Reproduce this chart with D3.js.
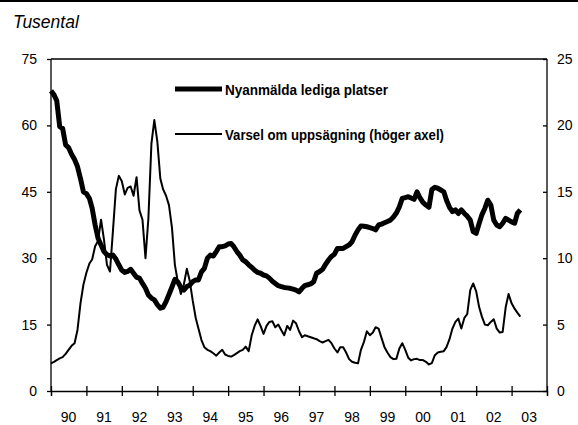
<!DOCTYPE html>
<html lang="sv">
<head>
<meta charset="UTF-8">
<title>Nyanmälda lediga platser och varsel</title>
<style>
  body { margin: 0; background: #fff; }
  svg { display: block; }
</style>
</head>
<body>
<script src="https://cdn.jsdelivr.net/npm/d3@7"></script>
<script>
const startMonth = '1990-01';
const yearLabels = ['90', '91', '92', '93', '94', '95', '96', '97', '98', '99', '00', '01', '02', '03'];
const leftTicks = [0, 15, 30, 45, 60, 75];
const rightTicks = [0, 5, 10, 15, 20, 25];

// nyanmälda lediga platser, tusental, månadsvis från jan 1990
const nyanmalda = [
  67.8, 66.9, 65.6, 59.7, 59.3, 55.6, 55.0, 53.5, 52.3, 50.7, 48.0, 45.0,
  44.6, 43.5, 41.3, 37.5, 34.5, 33.0, 31.5, 30.8, 30.5, 30.7, 29.8, 28.5,
  27.3, 26.8, 27.0, 27.5, 26.6, 25.7, 25.5, 24.3, 23.2, 21.7, 21.0, 20.6,
  19.5, 18.7, 18.9, 20.2, 21.8, 23.5, 25.2, 24.6, 23.4, 22.8, 23.6, 23.9,
  24.7, 25.1, 25.1, 26.9, 27.7, 30.0, 30.7, 30.5, 31.5, 32.6, 32.6, 32.8,
  33.2, 33.3, 32.6, 31.5, 30.7, 29.6, 29.2, 28.5, 27.9, 27.3, 26.8, 26.6,
  26.2, 26.0, 25.5, 24.8, 24.3, 23.8, 23.6, 23.4, 23.3, 23.2, 23.0, 22.8,
  22.4, 23.2, 23.8, 24.0, 24.2, 24.7, 26.6, 27.0, 27.5, 28.6, 29.6, 30.4,
  30.9, 32.2, 32.2, 32.2, 32.6, 33.0, 33.7, 35.2, 36.4, 37.3, 37.2, 37.1,
  36.9, 36.7, 36.4, 37.5, 37.7, 38.0, 38.3, 38.6, 39.3, 40.2, 41.6, 43.5,
  43.7, 43.9, 43.6, 43.3, 45.0, 43.6, 42.6, 42.0, 41.5, 45.5, 46.0, 45.8,
  45.4, 45.0, 43.1, 41.5, 40.5, 40.9, 40.1, 40.9, 40.1, 39.5, 38.6, 36.0,
  35.6, 37.9, 39.8, 41.3, 43.1, 42.0, 38.6, 37.5, 37.1, 37.9, 39.0, 38.6,
  38.2, 37.9, 40.1, 40.9
];

// varsel om uppsägning, tusental (höger axel)
const varsel = [
  2.08, 2.2, 2.33, 2.45, 2.55, 2.8, 3.1, 3.4, 3.6, 4.6, 6.6, 8.0,
  8.9, 9.6, 9.9, 10.9, 11.3, 12.9, 11.4, 9.5, 9.0, 12.0, 15.2, 16.2,
  15.8, 14.8, 15.3, 15.4, 14.7, 16.1, 13.6, 12.9, 10.0, 13.0, 18.6, 20.4,
  18.8, 16.0, 15.2, 14.7, 14.0, 12.3, 9.5, 8.2, 7.3, 8.0, 9.2, 8.3,
  6.8, 5.5, 4.7, 3.84, 3.3, 3.1, 3.0, 2.84, 2.66, 2.9, 3.1, 2.75,
  2.64, 2.59, 2.7, 2.85, 3.0, 3.1, 3.34, 3.0, 4.2, 4.9, 5.4, 4.9,
  4.3, 4.9, 5.2, 5.25, 4.8, 5.0, 4.6, 4.2, 4.9, 4.6, 5.3, 5.1,
  4.5, 4.05, 4.2, 4.12, 4.05, 3.97, 3.9, 3.75, 3.65, 3.75, 3.85, 3.6,
  3.2, 2.9, 3.3, 3.3, 2.9, 2.4, 2.2, 2.13, 2.08, 3.1, 3.7, 4.5,
  4.2, 4.4, 4.8, 4.7, 4.0, 3.3, 2.9, 2.55, 2.4, 2.42, 3.2, 3.6,
  3.1, 2.5, 2.3, 2.4, 2.42, 2.33, 2.33, 2.2, 2.0, 2.1, 2.7, 2.9,
  2.95, 3.0, 3.3, 3.9, 4.7, 5.2, 5.45, 4.7, 5.5, 5.8, 7.6, 8.1,
  7.5, 6.3, 5.6, 5.0, 4.95, 5.2, 5.4, 4.7, 4.4, 4.45, 6.3, 7.3,
  6.6, 6.2, 5.9, 5.6
];

const W = 578, H = 425;
const margin = { top: 59, right: 31, bottom: 34, left: 51 };
const sans = '"Liberation Sans", Arial, sans-serif';

const svg = d3.select('body').append('svg')
  .attr('width', W)
  .attr('height', H);

// svart linje överst
svg.append('rect')
  .attr('x', 0).attr('y', 0)
  .attr('width', W).attr('height', 2)
  .attr('fill', '#000');

svg.append('text')
  .attr('x', 13)
  .attr('y', 28)
  .attr('font-family', sans)
  .attr('font-style', 'italic')
  .attr('font-size', 17.5)
  .text('Tusental');

const start = d3.timeParse('%Y-%m')(startMonth);
const monthDate = i => d3.timeMonth.offset(start, i);

const x = d3.scaleTime()
  .domain([start, d3.timeYear.offset(start, yearLabels.length)])
  .range([margin.left, W - margin.right]);

const yL = d3.scaleLinear()
  .domain([0, 75])
  .range([H - margin.bottom, margin.top]);

const yR = d3.scaleLinear()
  .domain([0, 25])
  .range([H - margin.bottom, margin.top]);

const g = svg.append('g');

// ram: topp
g.append('line')
  .attr('x1', margin.left).attr('x2', W - margin.right)
  .attr('y1', margin.top).attr('y2', margin.top)
  .attr('stroke', '#000').attr('stroke-width', 1.3);

// vänster axel
const leftAxis = g.append('g')
  .attr('transform', `translate(${margin.left},0)`)
  .call(d3.axisLeft(yL).tickValues(leftTicks).tickSize(4).tickPadding(10));

// höger axel, streck inåt
const rightAxis = g.append('g')
  .attr('transform', `translate(${W - margin.right},0)`)
  .call(d3.axisRight(yR).tickValues(rightTicks).tickSize(0).tickPadding(10));
rightAxis.selectAll('.tick line')
  .attr('x1', -4).attr('x2', 0);

// x-axel, streck vid årsskiften
const years = d3.timeYear.range(start, d3.timeYear.offset(start, yearLabels.length + 1));
const bottomAxis = g.append('g')
  .attr('transform', `translate(0,${H - margin.bottom})`)
  .call(d3.axisBottom(x).tickValues(years).tickSize(5).tickFormat(''));
bottomAxis.selectAll('.tick line').attr('y1', -5);

bottomAxis.selectAll('.year')
  .data(yearLabels)
  .join('text')
  .attr('class', 'year')
  .attr('x', (d, i) => x(d3.timeMonth.offset(years[i], 6)))
  .attr('y', 30.5)
  .attr('text-anchor', 'middle')
  .attr('fill', '#000')
  .text(d => d);

[leftAxis, rightAxis, bottomAxis].forEach(a => {
  a.select('.domain').attr('stroke-width', 1.3);
  a.selectAll('.tick line').attr('stroke-width', 1.3);
  a.selectAll('text')
    .attr('font-family', sans)
    .attr('font-size', 14);
});
leftAxis.select('.domain').attr('d', `M0,${margin.top}V${H - margin.bottom}`);
rightAxis.select('.domain').attr('d', `M0,${margin.top}V${H - margin.bottom}`);

const lineL = d3.line()
  .x((d, i) => x(monthDate(i)))
  .y(d => yL(d));

const lineR = d3.line()
  .x((d, i) => x(monthDate(i)))
  .y(d => yR(d));

g.append('path')
  .datum(varsel)
  .attr('d', lineR)
  .attr('fill', 'none')
  .attr('stroke', '#000')
  .attr('stroke-width', 2)
  .attr('stroke-linejoin', 'round');

g.append('path')
  .datum(nyanmalda)
  .attr('d', lineL)
  .attr('fill', 'none')
  .attr('stroke', '#000')
  .attr('stroke-width', 5)
  .attr('stroke-linejoin', 'round');

// förklaring (smal fet stil, inget narrow-typsnitt finns, därför textLength)
const legend = [
  { label: 'Nyanmälda lediga platser', width: 5, y: 89, len: 163 },
  { label: 'Varsel om uppsägning (höger axel)', width: 2, y: 134, len: 219 }
];

const lg = svg.append('g');
lg.selectAll('line')
  .data(legend)
  .join('line')
  .attr('x1', 175).attr('x2', 222)
  .attr('y1', d => d.y).attr('y2', d => d.y)
  .attr('stroke', '#000')
  .attr('stroke-width', d => d.width);

lg.selectAll('text')
  .data(legend)
  .join('text')
  .attr('x', 225)
  .attr('y', d => d.y + 6)
  .attr('font-family', sans)
  .attr('font-weight', 'bold')
  .attr('font-size', 15)
  .attr('textLength', d => d.len)
  .attr('lengthAdjust', 'spacingAndGlyphs')
  .text(d => d.label);
</script>
</body>
</html>
